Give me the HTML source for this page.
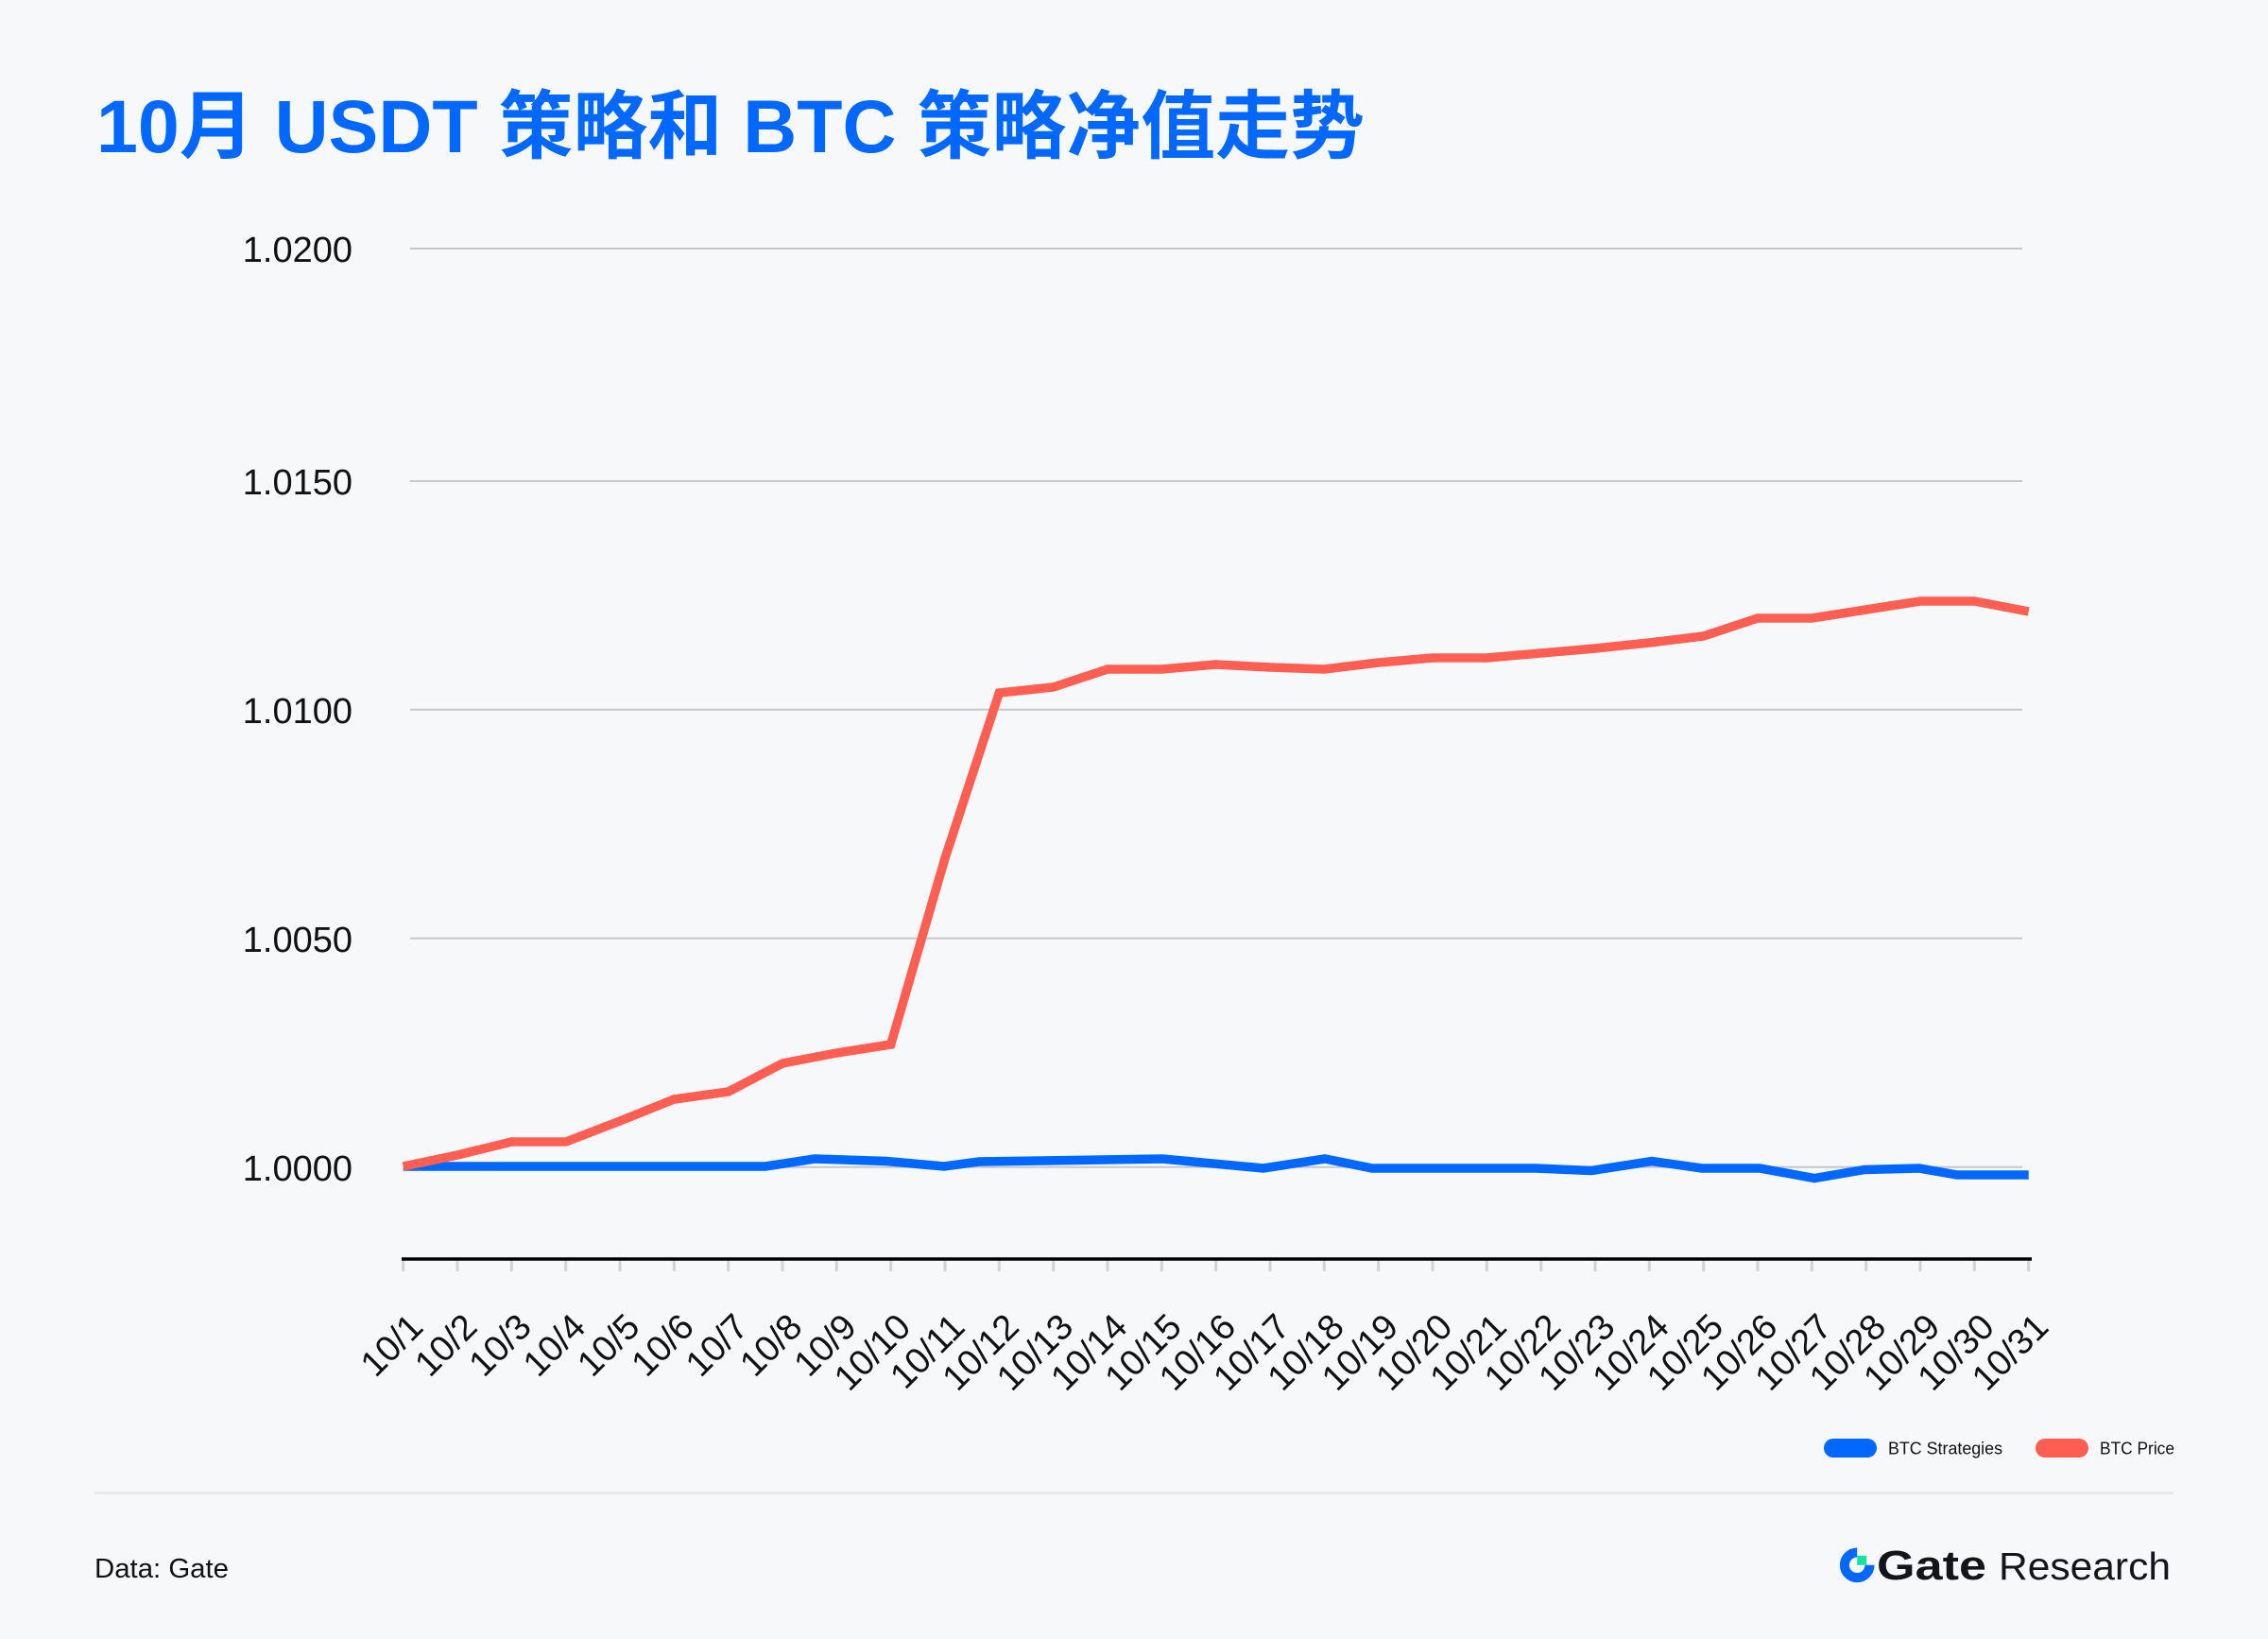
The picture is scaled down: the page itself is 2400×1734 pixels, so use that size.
<!DOCTYPE html>
<html>
<head>
<meta charset="utf-8">
<style>
  html, body { margin: 0; padding: 0; background: #f7f8fa; }
  body { width: 2400px; height: 1734px; overflow: hidden; }
  svg { display: block; }
</style>
</head>
<body>
<svg width="2400" height="1734" viewBox="0 0 2400 1734" xmlns="http://www.w3.org/2000/svg">
  <rect x="0" y="0" width="2400" height="1734" fill="#f7f8fa"/>

  <!-- Title -->
  <text x="102" y="161" font-family="Liberation Sans, Noto Sans CJK SC, sans-serif" font-weight="700" font-size="79" fill="#0068ff" textLength="1342" lengthAdjust="spacingAndGlyphs">10月 USDT 策略和 BTC 策略净值走势</text>

  <!-- Gridlines -->
  <g stroke="#c6c7ca" stroke-width="2">
    <line x1="434" y1="263" x2="2140" y2="263"/>
    <line x1="434" y1="509" x2="2140" y2="509"/>
    <line x1="434" y1="750.7" x2="2140" y2="750.7"/>
    <line x1="434" y1="992.7" x2="2140" y2="992.7"/>
    <line x1="434" y1="1234.7" x2="2140" y2="1234.7"/>
  </g>

  <!-- Y labels -->
  <g font-family="Liberation Sans, sans-serif" font-size="38" fill="#111" text-anchor="end">
    <text x="373" y="277">1.0200</text>
    <text x="373" y="523">1.0150</text>
    <text x="373" y="765">1.0100</text>
    <text x="373" y="1007">1.0050</text>
    <text x="373" y="1249">1.0000</text>
  </g>

  <!-- X axis ticks -->
  <g stroke="#d2d3d5" stroke-width="3">
    <line x1="426.7" y1="1332" x2="426.7" y2="1345"/>
    <line x1="484.0" y1="1332" x2="484.0" y2="1345"/>
    <line x1="541.3" y1="1332" x2="541.3" y2="1345"/>
    <line x1="598.7" y1="1332" x2="598.7" y2="1345"/>
    <line x1="656.0" y1="1332" x2="656.0" y2="1345"/>
    <line x1="713.3" y1="1332" x2="713.3" y2="1345"/>
    <line x1="770.7" y1="1332" x2="770.7" y2="1345"/>
    <line x1="828.0" y1="1332" x2="828.0" y2="1345"/>
    <line x1="885.3" y1="1332" x2="885.3" y2="1345"/>
    <line x1="942.7" y1="1332" x2="942.7" y2="1345"/>
    <line x1="1000.0" y1="1332" x2="1000.0" y2="1345"/>
    <line x1="1057.3" y1="1332" x2="1057.3" y2="1345"/>
    <line x1="1114.7" y1="1332" x2="1114.7" y2="1345"/>
    <line x1="1172.0" y1="1332" x2="1172.0" y2="1345"/>
    <line x1="1229.3" y1="1332" x2="1229.3" y2="1345"/>
    <line x1="1286.7" y1="1332" x2="1286.7" y2="1345"/>
    <line x1="1344.0" y1="1332" x2="1344.0" y2="1345"/>
    <line x1="1401.3" y1="1332" x2="1401.3" y2="1345"/>
    <line x1="1458.7" y1="1332" x2="1458.7" y2="1345"/>
    <line x1="1516.0" y1="1332" x2="1516.0" y2="1345"/>
    <line x1="1573.3" y1="1332" x2="1573.3" y2="1345"/>
    <line x1="1630.7" y1="1332" x2="1630.7" y2="1345"/>
    <line x1="1688.0" y1="1332" x2="1688.0" y2="1345"/>
    <line x1="1745.3" y1="1332" x2="1745.3" y2="1345"/>
    <line x1="1802.7" y1="1332" x2="1802.7" y2="1345"/>
    <line x1="1860.0" y1="1332" x2="1860.0" y2="1345"/>
    <line x1="1917.3" y1="1332" x2="1917.3" y2="1345"/>
    <line x1="1974.7" y1="1332" x2="1974.7" y2="1345"/>
    <line x1="2032.0" y1="1332" x2="2032.0" y2="1345"/>
    <line x1="2089.3" y1="1332" x2="2089.3" y2="1345"/>
    <line x1="2146.7" y1="1332" x2="2146.7" y2="1345"/>
  </g>
  <line x1="425" y1="1332" x2="2150" y2="1332" stroke="#000" stroke-width="3.5"/>

  <!-- X labels -->
  <g font-family="Liberation Sans, sans-serif" font-size="38" fill="#111" text-anchor="end">
    <text x="449.7" y="1406" transform="rotate(-45 449.7 1406)">10/1</text>
    <text x="507.0" y="1406" transform="rotate(-45 507.0 1406)">10/2</text>
    <text x="564.3" y="1406" transform="rotate(-45 564.3 1406)">10/3</text>
    <text x="621.7" y="1406" transform="rotate(-45 621.7 1406)">10/4</text>
    <text x="679.0" y="1406" transform="rotate(-45 679.0 1406)">10/5</text>
    <text x="736.3" y="1406" transform="rotate(-45 736.3 1406)">10/6</text>
    <text x="793.7" y="1406" transform="rotate(-45 793.7 1406)">10/7</text>
    <text x="851.0" y="1406" transform="rotate(-45 851.0 1406)">10/8</text>
    <text x="908.3" y="1406" transform="rotate(-45 908.3 1406)">10/9</text>
    <text x="965.7" y="1406" transform="rotate(-45 965.7 1406)">10/10</text>
    <text x="1023.0" y="1406" transform="rotate(-45 1023.0 1406)">10/11</text>
    <text x="1080.3" y="1406" transform="rotate(-45 1080.3 1406)">10/12</text>
    <text x="1137.7" y="1406" transform="rotate(-45 1137.7 1406)">10/13</text>
    <text x="1195.0" y="1406" transform="rotate(-45 1195.0 1406)">10/14</text>
    <text x="1252.3" y="1406" transform="rotate(-45 1252.3 1406)">10/15</text>
    <text x="1309.7" y="1406" transform="rotate(-45 1309.7 1406)">10/16</text>
    <text x="1367.0" y="1406" transform="rotate(-45 1367.0 1406)">10/17</text>
    <text x="1424.3" y="1406" transform="rotate(-45 1424.3 1406)">10/18</text>
    <text x="1481.7" y="1406" transform="rotate(-45 1481.7 1406)">10/19</text>
    <text x="1539.0" y="1406" transform="rotate(-45 1539.0 1406)">10/20</text>
    <text x="1596.3" y="1406" transform="rotate(-45 1596.3 1406)">10/21</text>
    <text x="1653.7" y="1406" transform="rotate(-45 1653.7 1406)">10/22</text>
    <text x="1711.0" y="1406" transform="rotate(-45 1711.0 1406)">10/23</text>
    <text x="1768.3" y="1406" transform="rotate(-45 1768.3 1406)">10/24</text>
    <text x="1825.7" y="1406" transform="rotate(-45 1825.7 1406)">10/25</text>
    <text x="1883.0" y="1406" transform="rotate(-45 1883.0 1406)">10/26</text>
    <text x="1940.3" y="1406" transform="rotate(-45 1940.3 1406)">10/27</text>
    <text x="1997.7" y="1406" transform="rotate(-45 1997.7 1406)">10/28</text>
    <text x="2055.0" y="1406" transform="rotate(-45 2055.0 1406)">10/29</text>
    <text x="2112.3" y="1406" transform="rotate(-45 2112.3 1406)">10/30</text>
    <text x="2169.7" y="1406" transform="rotate(-45 2169.7 1406)">10/31</text>
  </g>

  <!-- Blue series: BTC Strategies -->
  <polyline fill="none" stroke="#0068ff" stroke-width="9.5" stroke-linejoin="miter" stroke-linecap="butt"
    points="426.7,1234 810,1234 862,1226 938,1228.5 999,1234 1036,1229 1230,1226 1337,1236 1402,1226 1452,1236 1625,1236 1684,1238.5 1748,1228.5 1801,1236 1862,1236 1920,1246.5 1973,1237.5 2031,1236 2071,1243 2146.7,1243"/>

  <!-- Red series: BTC Price -->
  <polyline fill="none" stroke="#ff5f52" stroke-width="9.5" stroke-linejoin="miter" stroke-linecap="butt"
    points="426.7,1234 484,1222 541.3,1208 598.7,1208 656,1186 713.3,1163 770.7,1155 828,1125 885.3,1114 942.7,1105 1000,908 1057.3,733 1114.7,727 1172,708 1229.3,708 1286.7,703 1344,706 1401.3,708 1458.7,701 1516,696 1573.3,696 1630.7,691 1688,686 1745.3,680 1802.7,673 1860,654 1917.3,654 1974.7,645 2032,636 2089.3,636 2146.7,647"/>

  <!-- Legend -->
  <rect x="1930" y="1522" width="56" height="20" rx="10" ry="10" fill="#0068ff"/>
  <text x="1998" y="1538.5" font-family="Liberation Sans, sans-serif" font-size="18.5" fill="#111" textLength="121" lengthAdjust="spacingAndGlyphs">BTC Strategies</text>
  <rect x="2154" y="1522" width="56" height="20" rx="10" ry="10" fill="#ff5f52"/>
  <text x="2222" y="1538.5" font-family="Liberation Sans, sans-serif" font-size="18.5" fill="#111" textLength="79" lengthAdjust="spacingAndGlyphs">BTC Price</text>

  <!-- Divider -->
  <line x1="100" y1="1579.5" x2="2300" y2="1579.5" stroke="#e4e5e8" stroke-width="2.5"/>

  <!-- Footer -->
  <text x="100" y="1669" font-family="Liberation Sans, sans-serif" font-size="29" fill="#111" textLength="142" lengthAdjust="spacingAndGlyphs">Data: Gate</text>

  <!-- Gate Research logo -->
  <path d="M 1978.5 1655.8 A 13.3 13.3 0 1 1 1965.2 1642.5" fill="none" stroke="#0068ff" stroke-width="10"/>
  <rect x="1965.2" y="1645.8" width="10" height="10" fill="#17e3a0"/>
  <text x="1986" y="1671" font-family="Liberation Sans, sans-serif" font-weight="700" font-size="44" fill="#14151a" textLength="116" lengthAdjust="spacingAndGlyphs">Gate</text>
  <text x="2115" y="1671" font-family="Liberation Sans, sans-serif" font-size="41" fill="#14151a" textLength="182" lengthAdjust="spacingAndGlyphs">Research</text>
</svg>
</body>
</html>
